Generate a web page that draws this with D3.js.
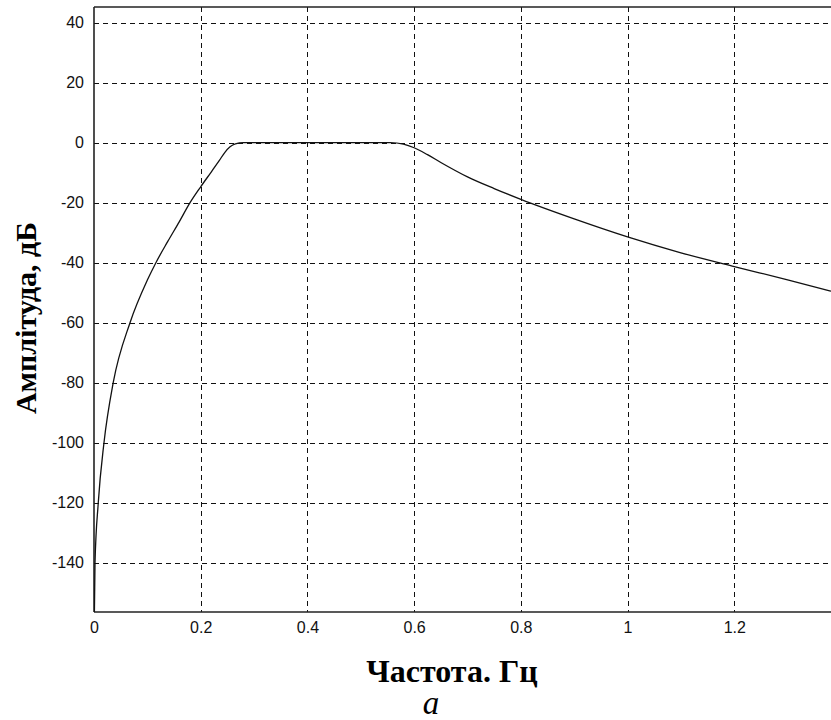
<!DOCTYPE html>
<html>
<head>
<meta charset="utf-8">
<script src="https://cdn.jsdelivr.net/npm/d3@7"></script>
<style>
  html, body { margin: 0; padding: 0; background: #fff; }
  svg { display: block; }
</style>
</head>
<body>
<script>
// Amplitude response of the filter: frequency (Hz) and level (dB)
const freq = [0.0005, 0.0019, 0.008, 0.0187, 0.036, 0.0675, 0.1, 0.116, 0.138, 0.16, 0.18, 0.2, 0.22, 0.235, 0.245, 0.255, 0.265, 0.28, 0.4, 0.555, 0.58, 0.6, 0.625, 0.65, 0.7, 0.75, 0.8, 0.9, 1.0, 1.1, 1.2, 1.3, 1.3813];
const ampDb = [-160, -140, -120, -100, -80, -60, -45.8, -40, -33.0, -26.3, -20, -14.7, -9.7, -5.9, -3.3, -1.4, -0.4, 0, 0, 0, -0.5, -1.7, -4.0, -6.6, -11.4, -15.3, -18.9, -25.4, -31.4, -36.7, -41.3, -45.7, -49.5];

const xTicks = [0, 0.2, 0.4, 0.6, 0.8, 1, 1.2];
const yTicks = [40, 20, 0, -20, -40, -60, -80, -100, -120, -140];
const xDomain = [0, 1.3813];
const yDomain = [-156.4, 45.2];

const xTitle = "Частота. Гц";
const yTitle = "Амплітуда, дБ";
const caption = "а";

const W = 831, H = 720;
const plot = { left: 94, right: 831, top: 7, bottom: 612 };

const svg = d3.select("body").append("svg")
  .attr("width", W).attr("height", H);

const x = d3.scaleLinear().domain(xDomain).range([plot.left, plot.right]);
const y = d3.scaleLinear().domain(yDomain).range([plot.bottom, plot.top]);

svg.append("defs").append("clipPath").attr("id", "plotClip")
  .append("rect")
  .attr("x", plot.left).attr("y", plot.top)
  .attr("width", plot.right - plot.left).attr("height", plot.bottom - plot.top);

// dashed grid
const grid = svg.append("g").attr("stroke", "#111").attr("stroke-width", 1)
  .attr("stroke-dasharray", "5,4").attr("shape-rendering", "crispEdges");
grid.selectAll("line.h").data(yTicks).join("line")
  .attr("class", "h")
  .attr("x1", plot.left).attr("x2", plot.right)
  .attr("y1", d => Math.round(y(d)) + 0.5).attr("y2", d => Math.round(y(d)) + 0.5);
grid.selectAll("line.v").data(xTicks.filter(d => d > 0)).join("line")
  .attr("class", "v")
  .attr("y1", plot.top).attr("y2", plot.bottom)
  .attr("x1", d => Math.round(x(d)) + 0.5).attr("x2", d => Math.round(x(d)) + 0.5);

// axes
const xAxis = d3.axisBottom(x).tickValues(xTicks).tickSize(0).tickPadding(10)
  .tickFormat(d => String(d));
const yAxis = d3.axisLeft(y).tickValues(yTicks).tickSize(0).tickPadding(10)
  .tickFormat(d => String(d));

const gx = svg.append("g").attr("transform", `translate(0,${plot.bottom})`).call(xAxis);
const gy = svg.append("g").attr("transform", `translate(${plot.left},0)`).call(yAxis);
[gx, gy].forEach(g => {
  g.select(".domain").remove();
  g.selectAll("text")
    .attr("fill", "#111")
    .style("font-family", "'Liberation Sans', Arial, sans-serif")
    .style("font-size", "16px");
});

// axes frame: left, bottom and top lines
const frame = svg.append("g").attr("stroke", "#222").attr("stroke-width", 1.6).attr("fill", "none");
frame.append("line").attr("x1", plot.left).attr("x2", plot.left).attr("y1", plot.top).attr("y2", plot.bottom);
frame.append("line").attr("x1", plot.left).attr("x2", plot.right).attr("y1", plot.bottom).attr("y2", plot.bottom);
frame.append("line").attr("x1", plot.left).attr("x2", plot.right).attr("y1", plot.top).attr("y2", plot.top);

// response curve
const line = d3.line()
  .x((d, i) => x(freq[i]))
  .y(d => y(d))
  .curve(d3.curveMonotoneX);

svg.append("path")
  .datum(ampDb)
  .attr("clip-path", "url(#plotClip)")
  .attr("fill", "none")
  .attr("stroke", "#111")
  .attr("stroke-width", 1.3)
  .attr("d", line);

// titles
svg.append("text")
  .attr("x", 452).attr("y", 682)
  .attr("text-anchor", "middle")
  .style("font-family", "'Liberation Serif', 'Times New Roman', serif")
  .style("font-weight", "bold")
  .style("font-size", "32px")
  .text(xTitle);

svg.append("text")
  .attr("transform", "translate(36,318) rotate(-90)")
  .attr("text-anchor", "middle")
  .style("font-family", "'Liberation Serif', 'Times New Roman', serif")
  .style("font-weight", "bold")
  .style("font-size", "30px")
  .text(yTitle);

svg.append("text")
  .attr("x", 431).attr("y", 714)
  .attr("text-anchor", "middle")
  .style("font-family", "'Liberation Serif', 'Times New Roman', serif")
  .style("font-style", "italic")
  .style("font-size", "33px")
  .text(caption);
</script>
</body>
</html>
